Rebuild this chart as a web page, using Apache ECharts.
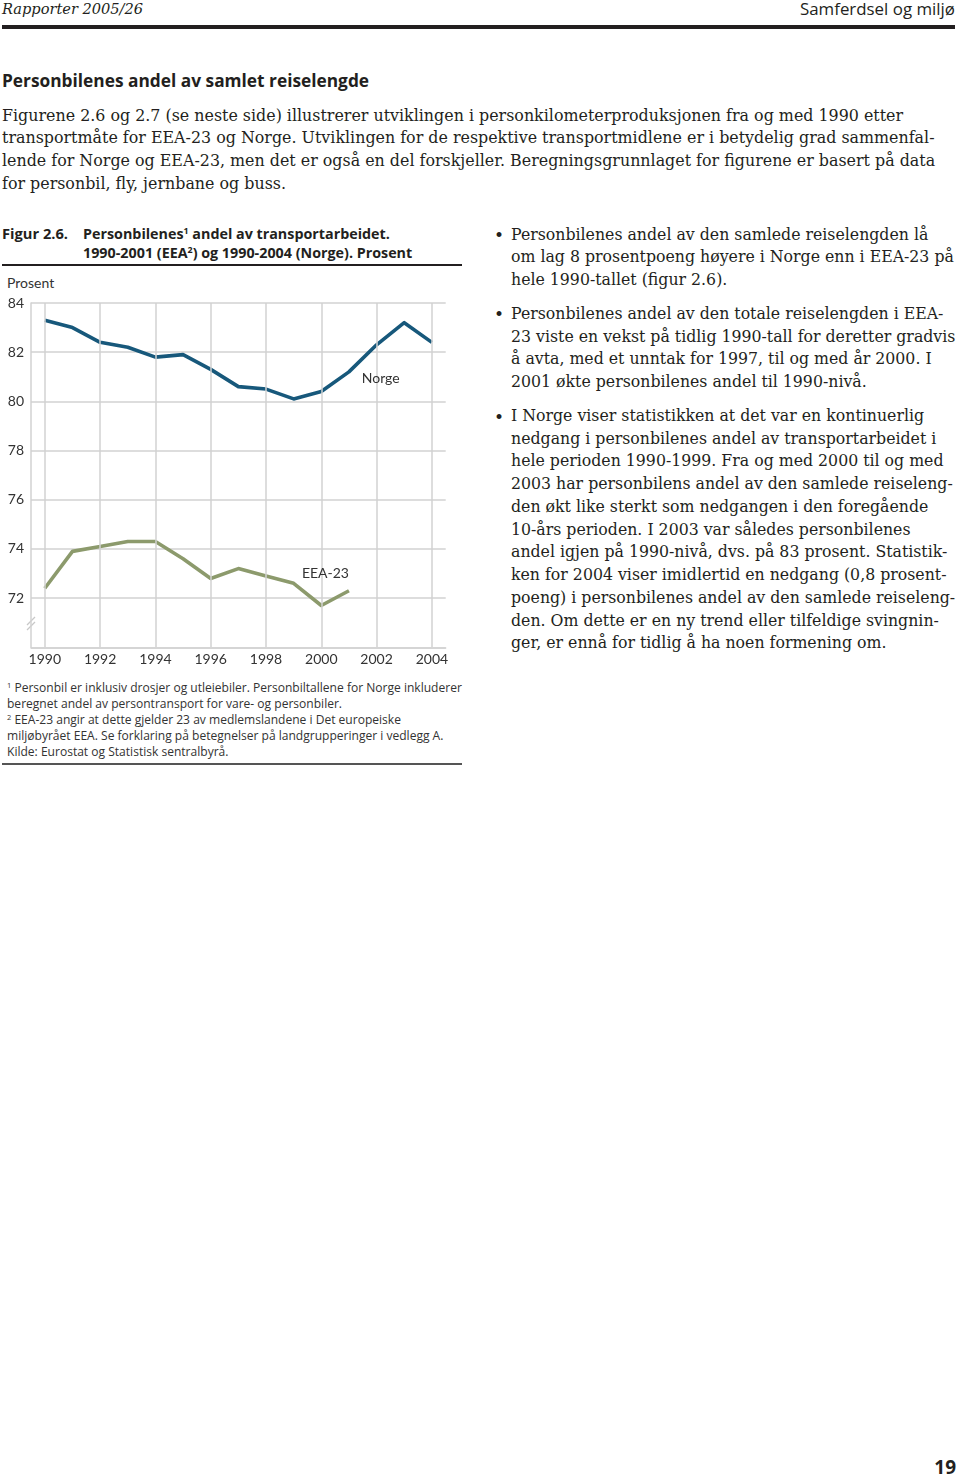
<!DOCTYPE html>
<html>
<head>
<meta charset="utf-8">
<script src="https://cdn.jsdelivr.net/npm/echarts@6/dist/echarts.min.js"></script>
<style>
  html, body { margin: 0; padding: 0; background: #fff; }
  body { width: 960px; height: 1478px; position: relative; overflow: hidden; color: #231f20; }
  .abs { position: absolute; white-space: nowrap; }
  .serif { font-family: "DejaVu Serif", "Liberation Serif", serif; }
  .sans { font-family: "Open Sans", Lato, sans-serif; }
  .para div { height: 22.75px; line-height: 22.75px; }
  .bul div { height: 22.75px; line-height: 22.75px; }
  .foot div { height: 16px; line-height: 16px; }
  sup { font-size: 0.62em; line-height: 0; vertical-align: 0.55em; }
</style>
</head>
<body>
<div class="abs serif" data-fit="141" style="left:2px; top:0px; font-size:16px; font-style:italic; line-height:17px;"><span data-ref>Rapporter 2005/26</span></div>
<div class="abs sans" data-fit="155" style="right:5px; top:0px; font-size:16px; line-height:17px;"><span data-ref>Samferdsel og miljø</span></div>
<div class="abs" style="left:2px; top:25px; width:953px; height:4px; background:#231f20;"></div>

<div class="abs sans" data-fit="367" style="left:2px; top:67.5px; font-size:18px; font-weight:bold; line-height:24px;"><span data-ref>Personbilenes andel av samlet reiselengde</span></div>

<div class="abs serif para" data-fit="901" style="left:2px; top:104.5px; font-size:16px;">
  <div><span data-ref>Figurene 2.6 og 2.7 (se neste side) illustrerer utviklingen i personkilometerproduksjonen fra og med 1990 etter</span></div>
  <div>transportmåte for EEA-23 og Norge. Utviklingen for de respektive transportmidlene er i betydelig grad sammenfal-</div>
  <div>lende for Norge og EEA-23, men det er også en del forskjeller. Beregningsgrunnlaget for figurene er basert på data</div>
  <div>for personbil, fly, jernbane og buss.</div>
</div>

<div class="abs sans" data-fit="66" style="left:2px; top:223.5px; font-size:14px; font-weight:bold; line-height:19px;"><span data-ref>Figur 2.6.</span></div>
<div class="abs sans" data-fit="307" style="left:83px; top:223.5px; font-size:14px; font-weight:bold; line-height:19px;">
  <div><span data-ref>Personbilenes<sup>1</sup> andel av transportarbeidet.</span></div>
  <div>1990-2001 (EEA<sup>2</sup>) og 1990-2004 (Norge). Prosent</div>
</div>
<div class="abs" style="left:2px; top:264px; width:460px; height:1.5px; background:#231f20;"></div>
<div class="abs" style="left:7px; top:274px; font-family:Lato, sans-serif; font-size:14px; line-height:18px; color:#333;">Prosent</div>

<div id="chart" class="abs" style="left:0; top:270px; width:470px; height:400px;"></div>

<div class="abs sans foot" data-fit="455" style="left:7px; top:680px; font-size:11.8px; color:#333;">
  <div><span data-ref><sup>1</sup> Personbil er inklusiv drosjer og utleiebiler. Personbiltallene for Norge inkluderer</span></div>
  <div>beregnet andel av persontransport for vare- og personbiler.</div>
  <div><sup>2</sup> EEA-23 angir at dette gjelder 23 av medlemslandene i Det europeiske</div>
  <div>miljøbyrået EEA. Se forklaring på betegnelser på landgrupperinger i vedlegg A.</div>
  <div>Kilde: Eurostat og Statistisk sentralbyrå.</div>
</div>
<div class="abs" style="left:2px; top:763px; width:460px; height:2px; background:#555;"></div>

<div class="abs" style="left:494px; top:223.5px; font-family:'DejaVu Serif',serif; font-size:17px; line-height:22.75px;">•</div>
<div class="abs" style="left:494px; top:303px; font-family:'DejaVu Serif',serif; font-size:17px; line-height:22.75px;">•</div>
<div class="abs" style="left:494px; top:405.5px; font-family:'DejaVu Serif',serif; font-size:17px; line-height:22.75px;">•</div>
<div class="abs serif bul" data-fit="443" style="left:511px; top:223.5px; font-size:16px;">
  <div>Personbilenes andel av den samlede reiselengden lå</div>
  <div><span data-ref>om lag 8 prosentpoeng høyere i Norge enn i EEA-23 på</span></div>
  <div>hele 1990-tallet (figur 2.6).</div>
  <div style="height:11px;"></div>
  <div>Personbilenes andel av den totale reiselengden i EEA-</div>
  <div>23 viste en vekst på tidlig 1990-tall for deretter gradvis</div>
  <div>å avta, med et unntak for 1997, til og med år 2000. I</div>
  <div>2001 økte personbilenes andel til 1990-nivå.</div>
  <div style="height:11px;"></div>
  <div>I Norge viser statistikken at det var en kontinuerlig</div>
  <div>nedgang i personbilenes andel av transportarbeidet i</div>
  <div>hele perioden 1990-1999. Fra og med 2000 til og med</div>
  <div>2003 har personbilens andel av den samlede reiseleng-</div>
  <div>den økt like sterkt som nedgangen i den foregående</div>
  <div>10-års perioden. I 2003 var således personbilenes</div>
  <div>andel igjen på 1990-nivå, dvs. på 83 prosent. Statistik-</div>
  <div>ken for 2004 viser imidlertid en nedgang (0,8 prosent-</div>
  <div>poeng) i personbilenes andel av den samlede reiseleng-</div>
  <div>den. Om dette er en ny trend eller tilfeldige svingnin-</div>
  <div>ger, er ennå for tidlig å ha noen formening om.</div>
</div>

<div class="abs sans" style="right:4px; top:1456px; font-size:19px; font-weight:bold; line-height:22px;">19</div>

<script>
// fit text blocks to the measured widths of the reference lines
function fitTexts() {
  document.querySelectorAll('[data-fit]').forEach(el => {
    const target = parseFloat(el.getAttribute('data-fit'));
    const ref = el.querySelector('[data-ref]');
    if (!ref) return;
    for (let k = 0; k < 3; k++) {
      const w = ref.getBoundingClientRect().width;
      if (!w) return;
      const fs = parseFloat(getComputedStyle(el).fontSize);
      el.style.fontSize = (fs * target / w) + 'px';
    }
  });
}
fitTexts();
if (document.fonts && document.fonts.ready) document.fonts.ready.then(fitTexts);

// ---- data ----
const norgeYears = [1990,1991,1992,1993,1994,1995,1996,1997,1998,1999,2000,2001,2002,2003,2004];
const norgeValues = [83.3,83.0,82.4,82.2,81.8,81.9,81.3,80.6,80.5,80.1,80.4,81.2,82.3,83.2,82.4];
const eeaYears = [1990,1991,1992,1993,1994,1995,1996,1997,1998,1999,2000,2001];
const eeaValues = [72.4,73.9,74.1,74.3,74.3,73.6,72.8,73.2,72.9,72.6,71.7,72.3];
const xTickLabels = [1990,1992,1994,1996,1998,2000,2002,2004];
const yTickLabels = [72,74,76,78,80,82,84];
const seriesNames = ['Norge','EEA-23'];

const chart = echarts.init(document.getElementById('chart'), null, {renderer: 'canvas'});
const gridColor = '#d2d2d2';
const labelFont = {fontFamily: 'Lato, "Open Sans", sans-serif', fontSize: 14, color: '#333'};

chart.setOption({
  animation: false,
  grid: {left: 31, right: 24.3, top: 33, bottom: 22.7, containLabel: false},
  xAxis: {
    type: 'value', min: 1989.5, max: 2004.5,
    axisLine: {show: true, lineStyle: {color: gridColor, width: 1.5}},
    axisTick: {show: false},
    splitLine: {show: false},
    axisLabel: Object.assign({customValues: xTickLabels, margin: 5, formatter: v => String(v)}, labelFont)
  },
  yAxis: {
    type: 'value', min: 70, max: 84, interval: 2,
    axisLine: {show: true, lineStyle: {color: gridColor, width: 1.5}},
    axisTick: {show: false},
    splitLine: {show: true, lineStyle: {color: gridColor, width: 1.5}},
    axisLabel: Object.assign({margin: 7, formatter: v => (yTickLabels.indexOf(v) >= 0 ? String(v) : '')}, labelFont)
  },
  series: [
    {
      type: 'line', data: [], z: 1, silent: true,
      markLine: {
        silent: true, symbol: 'none', animation: false,
        label: {show: false},
        lineStyle: {color: gridColor, width: 1.5, type: 'solid'},
        data: xTickLabels.map(y => ({xAxis: y}))
      }
    },
    {
      name: seriesNames[0], type: 'line', z: 3,
      data: norgeYears.map((y, i) => [y, norgeValues[i]]),
      showSymbol: false, symbol: 'none',
      lineStyle: {color: '#17587b', width: 3.6, join: 'round'},
      itemStyle: {color: '#17587b'},
      markPoint: {
        symbol: 'circle', symbolSize: 0, silent: true,
        label: Object.assign({show: true, position: 'inside', formatter: seriesNames[0]}, labelFont),
        data: [{coord: [2002.15, 80.95]}]
      }
    },
    {
      name: seriesNames[1], type: 'line', z: 3,
      data: eeaYears.map((y, i) => [y, eeaValues[i]]),
      showSymbol: false, symbol: 'none',
      lineStyle: {color: '#8c9a6c', width: 3.6, join: 'round'},
      itemStyle: {color: '#8c9a6c'},
      markPoint: {
        symbol: 'circle', symbolSize: 0, silent: true,
        label: Object.assign({show: true, position: 'inside', formatter: seriesNames[1]}, labelFont),
        data: [{coord: [2000.15, 73.0]}]
      }
    }
  ],
  graphic: [
    {type: 'line', silent: true, shape: {x1: 27, y1: 355, x2: 35, y2: 347}, style: {stroke: '#c8c8c8', lineWidth: 1.2}},
    {type: 'line', silent: true, shape: {x1: 27, y1: 360, x2: 35, y2: 352}, style: {stroke: '#c8c8c8', lineWidth: 1.2}}
  ]
});
</script>
</body>
</html>
